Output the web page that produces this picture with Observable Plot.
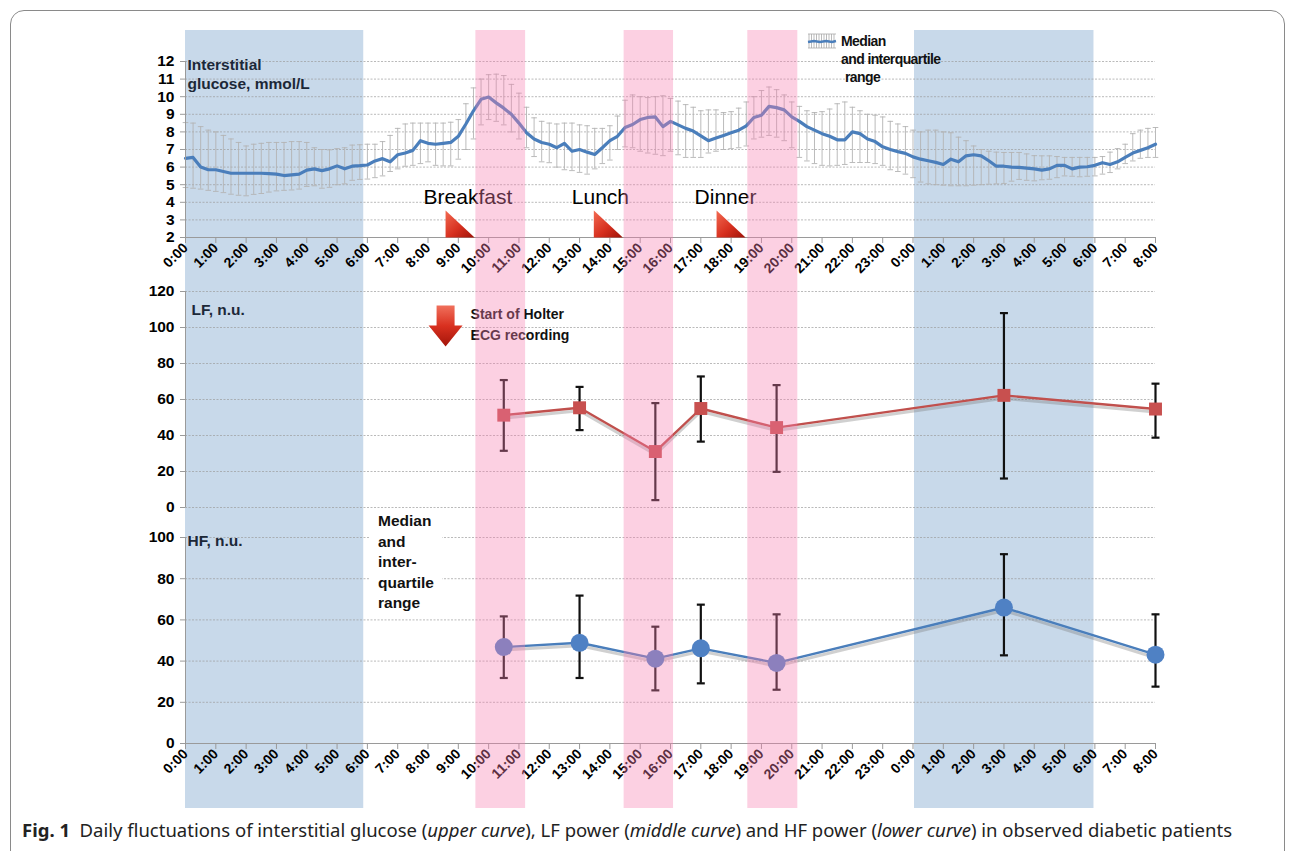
<!DOCTYPE html>
<html><head><meta charset="utf-8">
<script src="https://cdn.jsdelivr.net/npm/d3@7"></script>
<script src="https://cdn.jsdelivr.net/npm/@observablehq/plot@0.6"></script>
<style>
body{margin:0;background:#fff;}
#fig{position:relative;width:1295px;height:851px;overflow:hidden;font-family:"Liberation Sans",Arial,sans-serif;background:#fff;}
#fig svg{position:absolute;left:0;overflow:visible;}
.frame{position:absolute;left:10px;top:10px;width:1273px;height:870px;border:1px solid #8a8a8a;border-radius:14px;}
.legend{position:absolute;left:808px;top:32px;font:bold 14px "Liberation Sans",Arial,sans-serif;letter-spacing:-0.6px;line-height:18px;color:#111;}
.hfnote{position:absolute;left:370px;top:511px;background:#fff;padding:0 8px;font:bold 15.5px "Liberation Sans",Arial,sans-serif;line-height:20.5px;color:#111;}
.caption{position:absolute;left:22px;top:818px;font-family:"Noto Sans",sans-serif;font-size:18px;white-space:nowrap;transform-origin:0 0;color:#222;}
</style></head><body><div id="fig"></div>
<script>
// ---------- data ----------
const hourTicks = [0,1,2,3,4,5,6,7,8,9,10,11,12,13,14,15,16,17,18,19,20,21,22,23,24,25,26,27,28,29,30,31,32];
const tickLabels = ["0:00","1:00","2:00","3:00","4:00","5:00","6:00","7:00","8:00","9:00","10:00","11:00","12:00","13:00","14:00","15:00","16:00","17:00","18:00","19:00","20:00","21:00","22:00","23:00","0:00","1:00","2:00","3:00","4:00","5:00","6:00","7:00","8:00"];

const nightBands = [{start:0, end:5.88}, {start:24.05, end:29.97}];
const mealBands = [{start:9.58, end:11.22}, {start:14.47, end:16.1}, {start:18.55, end:20.2}];
const meals = [{label:"Breakfast", hour:8.58}, {label:"Lunch", hour:13.47}, {label:"Dinner", hour:17.52}];
const holter = [{hour:8.58, label:"Start of Holter\nECG recording"}];

// interstitial glucose, mmol/L (every 15 min)
const glucoseTime = [0,0.25,0.5,0.75,1,1.25,1.5,1.75,2,2.25,2.5,2.75,3,3.25,3.5,3.75,4,4.25,4.5,4.75,5,5.25,5.5,5.75,6,6.25,6.5,6.75,7,7.25,7.5,7.75,8,8.25,8.5,8.75,9,9.25,9.5,9.75,10,10.25,10.5,10.75,11,11.25,11.5,11.75,12,12.25,12.5,12.75,13,13.25,13.5,13.75,14,14.25,14.5,14.75,15,15.25,15.5,15.75,16,16.25,16.5,16.75,17,17.25,17.5,17.75,18,18.25,18.5,18.75,19,19.25,19.5,19.75,20,20.25,20.5,20.75,21,21.25,21.5,21.75,22,22.25,22.5,22.75,23,23.25,23.5,23.75,24,24.25,24.5,24.75,25,25.25,25.5,25.75,26,26.25,26.5,26.75,27,27.25,27.5,27.75,28,28.25,28.5,28.75,29,29.25,29.5,29.75,30,30.25,30.5,30.75,31,31.25,31.5,31.75,32];
const glucoseMedian = [
 6.5,6.55,6.0,5.85, 5.85,5.75,5.65,5.65, 5.65,5.65,5.65,5.63, 5.6,5.52,5.56,5.6,
 5.83,5.9,5.8,5.9, 6.07,5.9,6.05,6.08, 6.12,6.35,6.48,6.3, 6.7,6.8,6.95,7.5,
 7.35,7.3,7.35,7.4, 7.75,8.45,9.2,9.85, 9.98,9.65,9.35,9.0, 8.5,7.95,7.6,7.4,
 7.3,7.1,7.35,6.9, 7.0,6.85,6.72,7.1, 7.5,7.75,8.25,8.42, 8.7,8.82,8.85,8.3,
 8.6,8.4,8.2,8.05, 7.78,7.5,7.65,7.8, 7.95,8.1,8.34,8.82, 8.95,9.45,9.38,9.25,
 8.85,8.6,8.3,8.1, 7.9,7.75,7.55,7.55, 8.0,7.9,7.6,7.45, 7.15,7.0,6.88,6.78,
 6.58,6.45,6.36,6.27, 6.15,6.45,6.3,6.64, 6.7,6.64,6.36,6.05, 6.05,6.0,5.98,5.94,
 5.9,5.83,5.9,6.1, 6.1,5.9,6.0,6.02, 6.1,6.25,6.15,6.3, 6.55,6.8,6.95,7.1, 7.3];
const glucoseQ3 = [
 8.53,8.5,8.3,8.1, 8.0,7.8,7.6,7.4, 7.2,7.3,7.35,7.4, 7.4,7.4,7.45,7.45,
 7.4,7.1,7.0,6.98, 7.05,7.1,7.25,7.27, 7.3,7.3,7.45,7.8, 8.2,8.45,8.5,8.5,
 8.5,8.5,8.5,8.55, 8.7,9.6,10.5,11.0, 11.25,11.28,11.2,10.7, 10.2,9.4,8.8,8.6,
 8.5,8.45,8.5,8.5, 8.4,8.35,8.2,8.2, 8.35,8.9,9.8,10.1, 10.0,9.95,10.0,10.05,
 9.9,9.75,9.55,9.4, 9.2,9.25,9.25,9.1, 9.15,9.35,9.7,10.0, 10.35,10.55,10.4,10.1,
 9.7,9.45,9.2,9.1, 9.15,9.3,9.6,9.7, 9.4,9.2,9.0,8.95, 8.85,8.6,8.45,8.3,
 8.1,8.0,8.1,8.1, 8.0,7.95,7.7,7.5, 7.2,7.0,6.9,6.85, 6.83,6.83,6.83,6.75,
 6.65,6.64,6.64,6.6, 6.55,6.55,6.55,6.55, 6.55,6.6,6.85,7.05, 7.3,7.9,8.1,8.2, 8.25];
const glucoseQ1 = [
 4.84,4.8,4.75,4.68, 4.62,4.55,4.46,4.4, 4.37,4.45,4.5,4.58, 4.65,4.68,4.7,4.75,
 4.9,4.94,4.8,4.85, 5.0,5.05,5.25,5.3, 5.32,5.4,5.5,5.75, 5.9,6.05,6.1,6.2,
 6.3,6.1,6.07,6.07, 6.45,7.0,7.6,8.4, 8.7,8.6,8.4,8.0, 7.6,7.1,6.6,6.3,
 6.25,6.0,5.85,5.8, 5.7,5.6,5.9,6.2, 6.4,7.0,7.15,7.1, 6.9,6.8,6.73,6.65,
 6.9,6.7,6.55,6.55, 6.55,6.8,6.9,7.0, 7.05,7.1,7.2,7.6, 7.7,7.8,7.7,7.5,
 7.1,6.55,6.35,6.2, 6.1,6.07,6.1,6.15, 6.26,6.26,6.26,6.2, 6.1,5.85,5.75,5.6,
 5.4,5.15,5.05,5.0, 4.97,4.94,4.94,4.94, 4.97,5.0,5.03,5.05, 5.07,5.2,5.3,5.25,
 5.22,5.28,5.31,5.4, 5.5,5.48,5.45,5.48, 5.5,5.6,5.69,5.9, 6.2,6.35,6.5,6.55, 6.55];
const glucoseTicks = [2,3,4,5,6,7,8,9,10,11,12];

// HRV recordings
const hrvTime = [10.5, 13, 15.5, 17, 19.5, 27, 32];
const lfMedian = [51.3, 55.4, 31.1, 55.0, 44.4, 62.3, 54.7];
const lfQ3 = [70.8, 67.0, 58.0, 72.8, 68.0, 108.0, 68.8];
const lfQ1 = [31.5, 43.0, 4.1, 36.6, 19.8, 16.1, 38.8];
const lfTicks = [0,20,40,60,80,100,120];
const hfMedian = [46.8, 48.9, 41.2, 46.2, 39.1, 66.0, 43.1];
const hfQ3 = [61.7, 71.8, 56.7, 67.4, 62.7, 91.9, 62.7];
const hfQ1 = [31.8, 31.8, 25.8, 29.2, 26.1, 42.8, 27.6];
const hfTicks = [0,20,40,60,80,100];

// ---------- build tables ----------
const glucose = glucoseTime.map((t,i)=>({t, med:glucoseMedian[i], q1:glucoseQ1[i], q3:glucoseQ3[i]}));
const lf = hrvTime.map((t,i)=>({t, med:lfMedian[i], q1:lfQ1[i], q3:lfQ3[i]}));
const hf = hrvTime.map((t,i)=>({t, med:hfMedian[i], q1:hfQ1[i], q3:hfQ3[i]}));

const W = 1295;
const X = {domain:[0,32], range:[185,1155]};
const tickFormat = d => tickLabels[hourTicks.indexOf(d)];
const baseStyle = {fontFamily:'"Liberation Sans", Arial, sans-serif', fontSize:"14px", fontWeight:"bold", background:"transparent", overflow:"visible"};
const GRID = {stroke:"#9c9c9c", strokeOpacity:1, strokeWidth:0.7, strokeDasharray:"2,1.5"};
const AXC = "#9a9a9a";

const hline = {draw(ctx, size){ const r = Math.sqrt(size/Math.PI); ctx.moveTo(-r,0); ctx.lineTo(r,0); }};
const tri = {draw(ctx, size){ const r = Math.sqrt(size/Math.PI); ctx.moveTo(0,0); ctx.lineTo(0,-r*0.93); ctx.lineTo(r,0); ctx.closePath(); }};
const arrow = {draw(ctx, size){ const s = Math.sqrt(size/Math.PI)/17;
  ctx.moveTo(-9*s,0); ctx.lineTo(9*s,0); ctx.lineTo(9*s,20*s); ctx.lineTo(17*s,20*s); ctx.lineTo(0,41*s); ctx.lineTo(-17*s,20*s); ctx.lineTo(-9*s,20*s); ctx.closePath(); }};

function defs(id, stops, x2=1, y2=1){
  return () => {
    const d = d3.create("svg:defs");
    const g = d.append("linearGradient").attr("id", id).attr("x1",0).attr("y1",0).attr("x2",x2).attr("y2",y2);
    stops.forEach(([o,c]) => g.append("stop").attr("offset", o).attr("stop-color", c));
    return d.node();
  };
}

const fig = document.getElementById("fig");

// background night bands
const bg = Plot.plot({width:W, height:851, marginTop:30, marginBottom:43, marginLeft:185, marginRight:140,
  x:{...X, axis:null}, style:baseStyle,
  marks:[Plot.rect(nightBands, {x1:"start", x2:"end", fill:"#c8d9ea"})]});
bg.style.top = "0px"; fig.appendChild(bg);

// glucose panel
const gp = Plot.plot({width:W, height:290, marginTop:61, marginBottom:53, marginLeft:185, marginRight:140,
  x:{...X}, y:{domain:[2,12]}, style:baseStyle,
  marks:[
    defs("triGrad", [[0,"#f26a52"],[0.55,"#d7301f"],[1,"#9e1208"]]),
    Plot.gridY({ticks:glucoseTicks, ...GRID}),
    Plot.ruleX(glucose, {x:"t", y1:"q1", y2:"q3", stroke:"#b3b3b3", strokeWidth:0.9}),
    Plot.dot(glucose, {x:"t", y:"q3", symbol:hline, r:2.8, stroke:"#b3b3b3", strokeWidth:0.9}),
    Plot.dot(glucose, {x:"t", y:"q1", symbol:hline, r:2.8, stroke:"#b3b3b3", strokeWidth:0.9}),
    Plot.line(glucose, {x:"t", y:"med", stroke:"#4a7ebb", strokeWidth:3.2}),
    Plot.ruleX([0], {stroke:AXC}),
    Plot.ruleY([2], {stroke:AXC}),
    Plot.axisY({ticks:glucoseTicks, tickSize:5, tickPadding:6, stroke:AXC, fill:"#000", fontSize:15.5, label:null}),
    Plot.axisX({ticks:hourTicks, tickFormat, tickRotate:-45, tickSize:6, tickPadding:2, stroke:AXC, fill:"#000", fontSize:14, label:null}),
    Plot.dot(meals, {x:"hour", frameAnchor:"bottom", symbol:tri, r:29, fill:"url(#triGrad)", stroke:"none"}),
    Plot.text(meals, {x:"hour", frameAnchor:"bottom", text:"label", textAnchor:"start", dx:-22, dy:-34, fontSize:21, fontWeight:"normal", fill:"#000"}),
    Plot.text(["Interstitial\nglucose, mmol/L"], {frameAnchor:"top-left", text:d=>d, textAnchor:"start", lineAnchor:"top", dx:2, dy:-5, fontSize:15.5, lineHeight:1.22, fill:"#1c2838"})
  ]});
gp.style.top = "0px"; fig.appendChild(gp);

// LF panel
const lp = Plot.plot({width:W, height:240, marginTop:11, marginBottom:13, marginLeft:185, marginRight:140,
  x:{...X, axis:null}, y:{domain:[0,120]}, style:baseStyle,
  marks:[
    defs("arrGrad", [[0,"#f0705c"],[0.5,"#d9301f"],[1,"#a3150a"]], 0, 1),
    Plot.gridY({ticks:lfTicks, ...GRID}),
    Plot.ruleX([0], {stroke:AXC}),
    Plot.axisY({ticks:lfTicks, tickSize:5, tickPadding:6, stroke:AXC, fill:"#000", fontSize:15.5, label:null}),
    Plot.ruleX(lf, {x:"t", y1:"q1", y2:"q3", stroke:"#111", strokeWidth:2.2}),
    Plot.dot(lf, {x:"t", y:"q3", symbol:hline, r:4, stroke:"#111", strokeWidth:2.2}),
    Plot.dot(lf, {x:"t", y:"q1", symbol:hline, r:4, stroke:"#111", strokeWidth:2.2}),
    Plot.line(lf, {x:"t", y:"med", stroke:"#777", strokeOpacity:0.35, strokeWidth:3, dy:3}),
    Plot.line(lf, {x:"t", y:"med", stroke:"#c0504d", strokeWidth:2.4}),
    Plot.dot(lf, {x:"t", y:"med", symbol:"square", r:7.3, fill:"#c8504f", stroke:"none"}),
    Plot.dot(holter, {x:"hour", frameAnchor:"top", dy:14, symbol:arrow, r:17, fill:"url(#arrGrad)", stroke:"none"}),
    Plot.text(holter, {x:"hour", frameAnchor:"top", text:"label", textAnchor:"start", lineAnchor:"top", dx:25, dy:13, fontSize:14, lineHeight:1.5, fill:"#111"}),
    Plot.text(["LF, n.u."], {frameAnchor:"top-left", text:d=>d, textAnchor:"start", lineAnchor:"top", dx:6, dy:12, fontSize:15.5, fill:"#1c2838"})
  ]});
lp.style.top = "280px"; fig.appendChild(lp);

// HF panel
const hp = Plot.plot({width:W, height:300, marginTop:17, marginBottom:77, marginLeft:185, marginRight:140,
  x:{...X}, y:{domain:[0,100]}, style:baseStyle,
  marks:[
    Plot.gridY({ticks:hfTicks, ...GRID}),
    Plot.ruleX([0], {stroke:AXC}),
    Plot.ruleY([0], {stroke:AXC}),
    Plot.axisY({ticks:hfTicks, tickSize:5, tickPadding:6, stroke:AXC, fill:"#000", fontSize:15.5, label:null}),
    Plot.axisX({ticks:hourTicks, tickFormat, tickRotate:-45, tickSize:6, tickPadding:2, stroke:AXC, fill:"#000", fontSize:14, label:null}),
    Plot.ruleX(hf, {x:"t", y1:"q1", y2:"q3", stroke:"#111", strokeWidth:2.2}),
    Plot.dot(hf, {x:"t", y:"q3", symbol:hline, r:4, stroke:"#111", strokeWidth:2.2}),
    Plot.dot(hf, {x:"t", y:"q1", symbol:hline, r:4, stroke:"#111", strokeWidth:2.2}),
    Plot.line(hf, {x:"t", y:"med", stroke:"#777", strokeOpacity:0.35, strokeWidth:3, dy:3}),
    Plot.line(hf, {x:"t", y:"med", stroke:"#4a7ebb", strokeWidth:2.4}),
    Plot.dot(hf, {x:"t", y:"med", r:9, fill:"#4f81c4", stroke:"none"}),
    Plot.text(["HF, n.u."], {frameAnchor:"top-left", text:d=>d, textAnchor:"start", lineAnchor:"top", dx:2, dy:-3, fontSize:15.5, fill:"#1c2838"})
  ]});
hp.style.top = "520px"; fig.appendChild(hp);

// HTML annotations
const note = document.createElement("div");
note.className = "hfnote";
note.innerHTML = "Median<br>and<br>inter-<br>quartile<br>range";
fig.appendChild(note);

const leg = document.createElement("div");
leg.className = "legend";
let hatch = "";
for (let i = 1; i < 28; i += 2.5) hatch += `<line x1="${i}" y1="1" x2="${i}" y2="15" stroke="#aaa" stroke-width="0.8"/>`;
leg.innerHTML = `<svg width="30" height="16" style="position:absolute;left:0;top:1px">${hatch}<line x1="0" y1="1" x2="28" y2="1" stroke="#aaa" stroke-width="0.8"/><line x1="0" y1="15" x2="28" y2="15" stroke="#aaa" stroke-width="0.8"/><path d="M0,9 L6,8 L12,9 L18,8 L24,9 L28,8" stroke="#4a7ebb" stroke-width="2.4" fill="none"/></svg>
<div style="margin-left:33px">Median<br>and interquartile<br><span style="margin-left:4px">range</span></div>`;
fig.appendChild(leg);

// pink meal bands on top
const pk = Plot.plot({width:W, height:851, marginTop:30, marginBottom:43, marginLeft:185, marginRight:140,
  x:{...X, axis:null}, style:baseStyle,
  marks:[Plot.rect(mealBands, {x1:"start", x2:"end", fill:"rgb(247,128,177)", fillOpacity:0.37})]});
pk.style.top = "0px"; pk.style.pointerEvents = "none"; fig.appendChild(pk);

const frame = document.createElement("div"); frame.className = "frame"; fig.appendChild(frame);

const cap = document.createElement("div");
cap.className = "caption";
cap.innerHTML = '<b>Fig. 1</b>&nbsp;&nbsp;Daily fluctuations of interstitial glucose (<i>upper curve</i>), LF power (<i>middle curve</i>) and HF power (<i>lower curve</i>) in observed diabetic patients';
fig.appendChild(cap);
const fit = () => { const w = cap.getBoundingClientRect().width / (cap._s || 1); cap._s = 1210 / w; cap.style.transform = `scaleX(${cap._s})`; };
fit();
if (document.fonts && document.fonts.ready) document.fonts.ready.then(() => { cap.style.transform = ""; cap._s = 1; fit(); });
</script></body></html>
